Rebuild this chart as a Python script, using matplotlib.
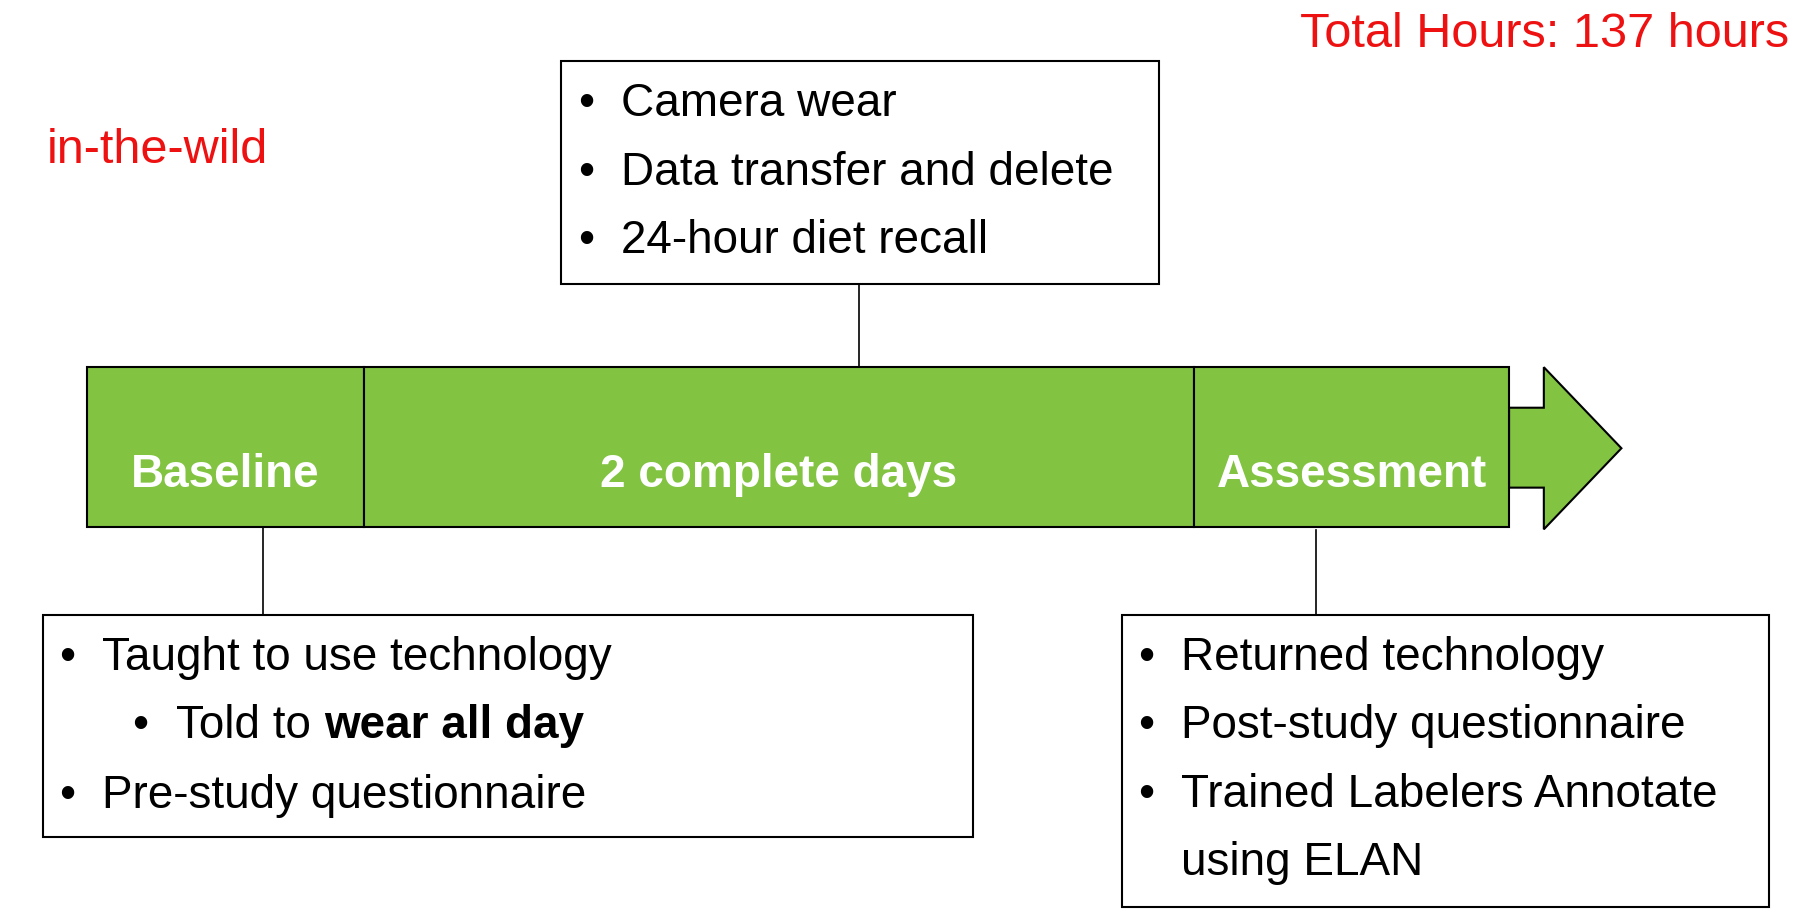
import matplotlib.pyplot as plt
from matplotlib.patches import Rectangle, Polygon

FONT = ['Liberation Sans', 'DejaVu Sans']
GREEN = '#82C341'

phases = ['Baseline', '2 complete days', 'Assessment']
phase_edges = [75, 314, 1031, 1303]

top_items = ['Camera wear', 'Data transfer and delete', '24-hour diet recall']
right_items = ['Returned technology', 'Post-study questionnaire',
               'Trained Labelers Annotate', 'using ELAN']

fig = plt.figure(figsize=(18.16, 9.22), dpi=100)
ax = fig.add_axes([0, 0, 1, 1])
ax.set_xlim(0, 1568)
ax.set_ylim(796, 0)
ax.axis('off')

FS = 33

# timeline bar
for i, name in enumerate(phases):
    x0, x1 = phase_edges[i], phase_edges[i + 1]
    ax.add_patch(Rectangle((x0, 317), x1 - x0, 138, fc=GREEN, ec='black', lw=1.5))
    ax.text((x0 + x1) / 2, 410, name, color='white', fontsize=FS, fontweight='bold',
            ha='center', va='center', family=FONT)
ax.add_patch(Polygon([(1303, 352), (1333, 352), (1333, 317), (1400, 387),
                      (1333, 457), (1333, 421), (1303, 421)],
                     closed=True, fc=GREEN, ec='black', lw=1.5))

# boxes and connectors
def box(x0, y0, x1, y1):
    ax.add_patch(Rectangle((x0, y0), x1 - x0, y1 - y0, fc='white', ec='black', lw=1.5))

box(484, 53, 1001, 245)
box(37, 531, 840, 723)
box(969, 531, 1527, 783)
ax.plot([742, 742], [245, 317], color='black', lw=1.2)
ax.plot([227, 227], [455, 531], color='black', lw=1.2)
ax.plot([1136, 1136], [458, 531], color='black', lw=1.2)

def line(xb, xt, y, s, bullet=True, **kw):
    if bullet:
        ax.text(xb, y, '•', fontsize=FS, ha='left', va='center', family=FONT)
    return ax.text(xt, y, s, fontsize=FS, ha='left', va='center', family=FONT, **kw)

for j, s in enumerate(top_items):
    line(499, 536, 90 + j * 59, s)

line(51, 88, 568, 'Taught to use technology')
t = line(114, 152, 627, 'Told to ')
ax.annotate('wear all day', xy=(1, 0), xycoords=t, ha='left', va='bottom',
            fontsize=FS, fontweight='bold', family=FONT)
line(51, 88, 687, 'Pre-study questionnaire')

for j, s in enumerate(right_items):
    line(983, 1020, 568 + j * 59, s, bullet=(j < 3))

ax.text(40, 130, 'in-the-wild', color='#EE1111', fontsize=35, va='center', family=FONT)
ax.text(1545, 30, 'Total Hours: 137 hours', color='#EE1111', fontsize=35,
        ha='right', va='center', family=FONT)

fig.savefig('out.png', dpi=100)
